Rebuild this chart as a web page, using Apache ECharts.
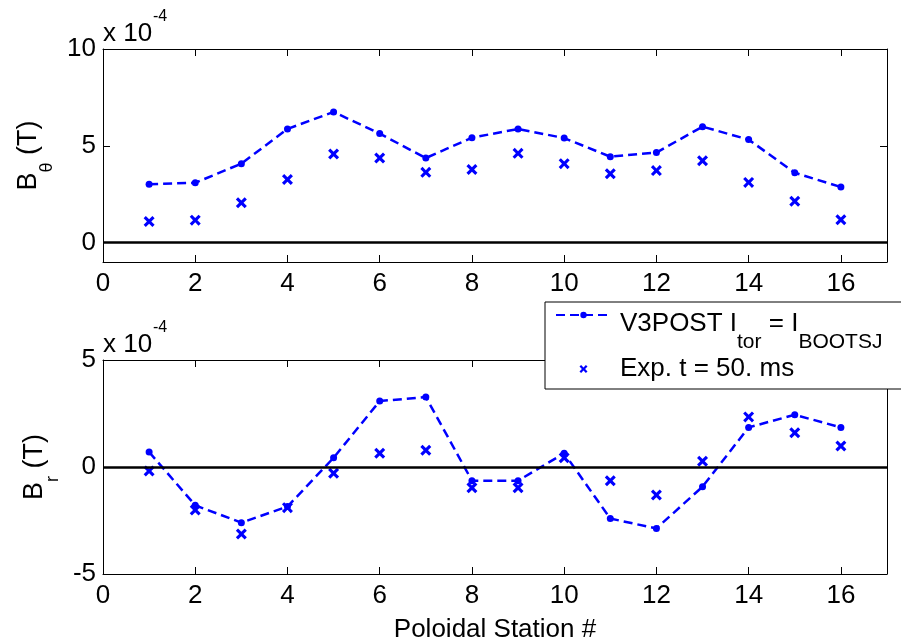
<!DOCTYPE html>
<html><head><meta charset="utf-8">
<script src="https://cdn.jsdelivr.net/npm/echarts@6/dist/echarts.min.js"></script>
<style>html,body{margin:0;padding:0;background:#fff}#c{width:901px;height:639px}</style>
</head><body><div id="c"></div>
<script>
// Values in units of 1e-4 T
const stations = [1,2,3,4,5,6,7,8,9,10,11,12,13,14,15,16];
const bthetaModel = [3.02,3.09,4.08,5.87,6.75,5.63,4.37,5.42,5.87,5.40,4.44,4.65,5.99,5.32,3.61,2.87];
const bthetaExp   = [1.09,1.16,2.06,3.26,4.58,4.37,3.63,3.78,4.61,4.08,3.56,3.72,4.23,3.11,2.14,1.18];
const brModel = [0.70,-1.79,-2.60,-1.85,0.43,3.08,3.27,-0.64,-0.64,0.64,-2.41,-2.87,-0.92,1.85,2.44,1.85];
const brExp   = [-0.19,-2.01,-3.13,-1.90,-0.29,0.64,0.78,-0.97,-0.97,0.43,-0.64,-1.31,0.27,2.34,1.60,0.98];
const xTicks = [0,2,4,6,8,10,12,14,16];
const bthetaTicks = [0,5,10];
const brTicks = [-5,0,5];
const modelName = 'V3POST';
const expName = 'Exp';

const FONT = 'Liberation Sans, Arial, sans-serif';
const BLUE = '#0000ff';
const xPath = 'path://M0,2L2,0L5,3L8,0L10,2L7,5L10,8L8,10L5,7L2,10L0,8L3,5Z';

const zip = (xs, ys) => xs.map((x, i) => [x, ys[i]]);

function xAx(grid, pos, labels, extra) {
  return Object.assign({
    type: 'value', gridIndex: grid, position: pos, min: 0, max: 17,
    axisLine: { show: true, onZero: false, lineStyle: { color: '#000', width: 1 } },
    axisTick: { show: true, inside: true, length: 7, customValues: xTicks, lineStyle: { color: '#000' } },
    axisLabel: { show: labels, customValues: xTicks, color: '#000', fontSize: 26, fontFamily: FONT, margin: 9 },
    splitLine: { show: false }
  }, extra || {});
}
function yAx(grid, pos, labels, min, max, ticks, extra) {
  return Object.assign({
    type: 'value', gridIndex: grid, position: pos, min: min, max: max,
    axisLine: { show: true, onZero: false, lineStyle: { color: '#000', width: 1 } },
    axisTick: { show: true, inside: true, length: 7, customValues: ticks, lineStyle: { color: '#000' } },
    axisLabel: { show: labels, customValues: ticks, color: '#000', fontSize: 26, fontFamily: FONT, margin: 7 },
    splitLine: { show: false }
  }, extra || {});
}
const yNameRich = {
  m: { fontSize: 27, lineHeight: 27, fontFamily: FONT, color: '#000', verticalAlign: 'top' },
  s: { fontSize: 18, lineHeight: 18, fontFamily: FONT, color: '#000', verticalAlign: 'top', padding: [23, 0, 0, 0] }
};
const zeroLine = {
  silent: true, symbol: 'none', label: { show: false },
  lineStyle: { color: '#000', width: 2.5, type: 'solid' },
  data: [{ yAxis: 0 }], animation: false
};

const option = {
  animation: false,
  backgroundColor: '#fff',
  grid: [
    { left: 103, top: 49, width: 784, height: 213, outerBoundsMode: 'none', containLabel: false },
    { left: 103, top: 360, width: 784, height: 214, outerBoundsMode: 'none', containLabel: false }
  ],
  xAxis: [
    xAx(0, 'bottom', true),
    xAx(0, 'top', false),
    xAx(1, 'bottom', true, {
      name: 'Poloidal Station #', nameLocation: 'middle', nameGap: 43,
      nameTextStyle: { fontSize: 26, fontFamily: FONT, color: '#000' }
    }),
    xAx(1, 'top', false)
  ],
  yAxis: [
    yAx(0, 'left', true, -1, 10, bthetaTicks, {
      name: '{m|B}{s|θ}{m| (T)}', nameLocation: 'middle', nameRotate: 90, nameGap: 49,
      nameTextStyle: { rich: yNameRich }
    }),
    yAx(0, 'right', false, -1, 10, bthetaTicks),
    yAx(1, 'left', true, -5, 5, brTicks, {
      name: '{m|B}{s|r}{m| (T)}', nameLocation: 'middle', nameRotate: 90, nameGap: 40,
      nameTextStyle: { rich: yNameRich }
    }),
    yAx(1, 'right', false, -5, 5, brTicks)
  ],
  legend: {
    orient: 'vertical', left: 545, top: 302,
    padding: [0, 40, 7, 10], itemGap: 3, itemWidth: 55, itemHeight: 8,
    backgroundColor: '#fff', borderColor: '#000', borderWidth: 1, borderRadius: 0,
    data: [{ name: modelName }, { name: expName }],
    formatter: function (n) {
      return n === modelName ? '{f|V3POST I}{s|tor}{n| = I}{s|BOOTSJ}' : '{e|Exp. t = 50. ms}';
    },
    textStyle: {
      color: '#000', fontFamily: FONT,
      rich: {
        f: { fontSize: 26, lineHeight: 26, fontFamily: FONT, color: '#000', verticalAlign: 'top', padding: [9, 0, 0, 4] },
        n: { fontSize: 26, lineHeight: 26, fontFamily: FONT, color: '#000', verticalAlign: 'top', padding: [9, 0, 0, 0] },
        s: { fontSize: 21, lineHeight: 21, fontFamily: FONT, color: '#000', verticalAlign: 'top', padding: [30, 0, 0, 0] },
        e: { fontSize: 26, lineHeight: 26, fontFamily: FONT, color: '#000', verticalAlign: 'top', padding: [0, 0, 0, 4] }
      }
    }
  },
  graphic: [
    { type: 'text', left: 103, top: 21, style: { text: 'x 10', fontSize: 26, fontFamily: FONT, fill: '#000' } },
    { type: 'text', left: 153, top: 9, style: { text: '-4', fontSize: 16, fontFamily: FONT, fill: '#000' } },
    { type: 'text', left: 103, top: 332, style: { text: 'x 10', fontSize: 26, fontFamily: FONT, fill: '#000' } },
    { type: 'text', left: 153, top: 320, style: { text: '-4', fontSize: 16, fontFamily: FONT, fill: '#000' } }
  ],
  series: [
    {
      name: modelName, type: 'line', xAxisIndex: 0, yAxisIndex: 0,
      data: zip(stations, bthetaModel),
      symbol: 'circle', symbolSize: 7,
      lineStyle: { color: BLUE, width: 2.5, type: [9, 5] },
      itemStyle: { color: BLUE },
      markLine: zeroLine, z: 3
    },
    {
      name: expName, type: 'scatter', xAxisIndex: 0, yAxisIndex: 0,
      data: zip(stations, bthetaExp),
      symbol: xPath, symbolSize: 11,
      itemStyle: { color: BLUE, opacity: 1 }, z: 3
    },
    {
      name: modelName, type: 'line', xAxisIndex: 2, yAxisIndex: 2,
      data: zip(stations, brModel),
      symbol: 'circle', symbolSize: 7,
      lineStyle: { color: BLUE, width: 2.5, type: [9, 5] },
      itemStyle: { color: BLUE },
      markLine: zeroLine, z: 3
    },
    {
      name: expName, type: 'scatter', xAxisIndex: 2, yAxisIndex: 2,
      data: zip(stations, brExp),
      symbol: xPath, symbolSize: 11,
      itemStyle: { color: BLUE, opacity: 1 }, z: 3
    }
  ]
};
const chart = echarts.init(document.getElementById('c'), null, { renderer: 'canvas' });
chart.setOption(option);
</script>
</body></html>
